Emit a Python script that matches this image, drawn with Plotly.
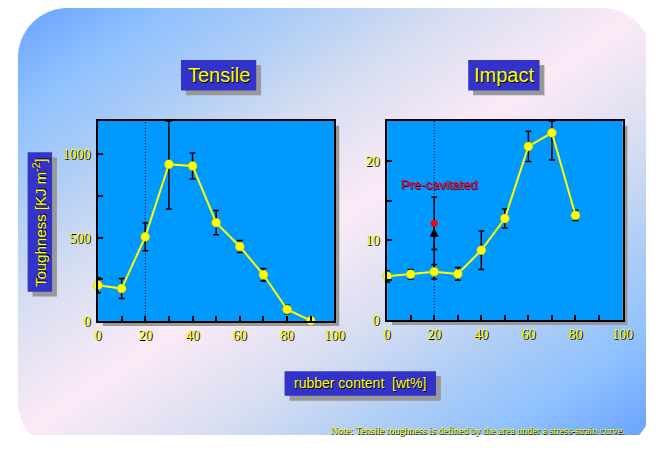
import base64
import struct
import zlib

import numpy as np
import plotly.graph_objects as go

# ---------------- data ----------------
tensile_x = [0, 10, 20, 30, 40, 50, 60, 70, 80, 90]
tensile_y = [215, 195, 505, 940, 930, 590, 447, 278, 70, 3]
tensile_err = [45, 60, 83, 268, 78, 73, 36, 37, 25, 8]

impact_x = [0, 10, 20, 30, 40, 50, 60, 70, 80]
impact_y = [5.5, 5.75, 6.07, 5.8, 8.77, 12.75, 21.8, 23.5, 13.15]
impact_err = [0.7, 0.6, 0.9, 0.8, 2.4, 1.2, 1.9, 3.4, 0.65]

precav_x = [20]
precav_y = [12.15]
precav_err = [3.3]
precav_arrow_from = 6.5
precav_arrow_to = 11.6

x_tickvals = [0, 10, 20, 30, 40, 50, 60, 70, 80, 90, 100]
x_ticktext = ["0", "", "20", "", "40", "", "60", "", "80", "", "100"]
tensile_tickvals = [0, 250, 500, 750, 1000]
tensile_ticktext = ["0", "", "500", "", "1000"]
impact_tickvals = [0, 5, 10, 15, 20, 25]
impact_ticktext = ["0", "", "10", "", "20", ""]

X_RANGE = [0, 100]
TENSILE_RANGE = [0, 1200]
IMPACT_RANGE = [0, 25]

# ---------------- geometry (page pixels) ----------------
PAGE_W, PAGE_H = 665, 451
OFF = 8                      # default page margin around the figure
W, H = PAGE_W - 2 * OFF, PAGE_H - 2 * OFF
TEN_BOX = (96, 123, 338, 327)   # left, top, right, bottom
IMP_BOX = (392, 123, 633, 326)
SHADOW = 5

YELLOW = "#FFFF00"
BOXBLUE = "#3333CC"
PLOTBLUE = "#0099FF"
GREY = "#999999"
TXT_SHADOW = "1px 1px 0px #000000"


def pxx(x):
    return (x - OFF) / W


def pxy(y):
    return 1 - (y - OFF) / H


# ---------------- background picture (gradient rounded panel) ----------------
def make_background():
    yy, xx = np.mgrid[0:H, 0:W].astype(float) + 0.5
    xx = xx + OFF
    yy = yy + OFF
    t = xx + 1.47 * yy
    d = np.abs(t - 670) / 650.0
    stops = [0.0, 0.3, 0.55, 0.75, 1.0, 1.3]
    cols = np.array([
        (252, 234, 247),
        (214, 221, 241),
        (170, 203, 247),
        (140, 192, 255),
        (98, 158, 255),
        (90, 150, 255),
    ], float)
    img = np.zeros((H, W, 3))
    for c in range(3):
        img[..., c] = np.interp(d, stops, cols[:, c])
    hatch = ((xx + yy) % 4.0) < 1.0
    img[hatch] = img[hatch] * 0.85 + 255 * 0.15
    L, T, R, B, r = 14, 8, 663, 460, 51
    cx = np.clip(xx, L + r, R - r)
    cy = np.clip(yy, T + r, B - r)
    dist = np.sqrt((xx - cx) ** 2 + (yy - cy) ** 2) - r
    a = np.clip(0.5 - dist, 0, 1)[..., None]
    img = img * a + 255 * (1 - a)
    img = np.clip(img, 0, 255).astype(np.uint8)
    raw = b"".join(b"\x00" + row.tobytes() for row in img)

    def chunk(tag, data):
        return (struct.pack(">I", len(data)) + tag + data +
                struct.pack(">I", zlib.crc32(tag + data) & 0xFFFFFFFF))

    png = (b"\x89PNG\r\n\x1a\n" +
           chunk(b"IHDR", struct.pack(">IIBBBBB", W, H, 8, 2, 0, 0, 0)) +
           chunk(b"IDAT", zlib.compress(raw, 9)) + chunk(b"IEND", b""))
    return "data:image/png;base64," + base64.b64encode(png).decode()


fig = go.Figure()


def clipped_plus(ys, errs, top):
    return [min(e, top - y) for y, e in zip(ys, errs)]


DOT = "1px,2px"

# ---- Tensile ----
fig.add_trace(go.Scatter(x=[precav_x[0], precav_x[0]], y=TENSILE_RANGE, mode="lines",
                         line=dict(color="black", width=1, dash=DOT),
                         xaxis="x", yaxis="y", hoverinfo="skip", showlegend=False))
fig.add_trace(go.Scatter(
    x=tensile_x, y=tensile_y, mode="lines+markers", cliponaxis=False,
    line=dict(color=YELLOW, width=2),
    marker=dict(color=YELLOW, size=9, line=dict(width=0.5, color="#B8B800")),
    error_y=dict(type="data", symmetric=False,
                 array=clipped_plus(tensile_y, tensile_err, TENSILE_RANGE[1]),
                 arrayminus=tensile_err, color="black", thickness=1.5, width=3),
    xaxis="x", yaxis="y", showlegend=False))

# ---- Impact ----
fig.add_trace(go.Scatter(x=[precav_x[0], precav_x[0]], y=IMPACT_RANGE, mode="lines",
                         line=dict(color="black", width=1, dash=DOT),
                         xaxis="x2", yaxis="y2", hoverinfo="skip", showlegend=False))
fig.add_trace(go.Scatter(
    x=precav_x, y=precav_y, mode="markers", cliponaxis=False,
    marker=dict(color="#FF0000", size=7),
    error_y=dict(type="data", array=precav_err, color="black", thickness=1.5, width=3),
    xaxis="x2", yaxis="y2", showlegend=False))
fig.add_trace(go.Scatter(
    x=impact_x, y=impact_y, mode="lines+markers", cliponaxis=False,
    line=dict(color=YELLOW, width=2),
    marker=dict(color=YELLOW, size=9, line=dict(width=0.5, color="#B8B800")),
    error_y=dict(type="data", symmetric=False,
                 array=clipped_plus(impact_y, impact_err, IMPACT_RANGE[1]),
                 arrayminus=impact_err, color="black", thickness=1.5, width=3),
    xaxis="x2", yaxis="y2", showlegend=False))

tickfont = dict(family="Liberation Serif", size=14, color=YELLOW, shadow=TXT_SHADOW)
axis_common = dict(showline=True, mirror=True, linecolor="black", linewidth=1.5,
                   ticks="inside", ticklen=5, tickwidth=1.5, tickcolor="black",
                   showgrid=False, zeroline=False, tickfont=tickfont, fixedrange=True)


def dom_x(box):
    return [pxx(box[0]), pxx(box[2])]


def dom_y(box):
    return [pxy(box[3]), pxy(box[1])]


shapes = []
for box in (TEN_BOX, IMP_BOX):
    l, t, r, b = box
    shapes.append(dict(type="rect", xref="paper", yref="paper", layer="below",
                       x0=pxx(l + SHADOW), x1=pxx(r + SHADOW), y0=pxy(b + SHADOW), y1=pxy(t + SHADOW),
                       fillcolor=GREY, line=dict(width=0)))
    shapes.append(dict(type="rect", xref="paper", yref="paper", layer="below",
                       x0=pxx(l), x1=pxx(r), y0=pxy(b), y1=pxy(t),
                       fillcolor=PLOTBLUE, line=dict(width=0)))

annotations = []


def label_box(l, t, r, b, text, size, rotate=0):
    shapes.append(dict(type="rect", xref="paper", yref="paper", layer="below",
                       x0=pxx(l + SHADOW), x1=pxx(r + SHADOW), y0=pxy(b + SHADOW), y1=pxy(t + SHADOW),
                       fillcolor=GREY, line=dict(width=0)))
    shapes.append(dict(type="rect", xref="paper", yref="paper", layer="below",
                       x0=pxx(l), x1=pxx(r), y0=pxy(b), y1=pxy(t),
                       fillcolor=BOXBLUE, line=dict(width=0)))
    annotations.append(dict(xref="paper", yref="paper", x=pxx((l + r) / 2), y=pxy((t + b) / 2),
                            text=text, showarrow=False, textangle=rotate,
                            xanchor="center", yanchor="middle",
                            font=dict(family="Liberation Sans", size=size, color=YELLOW,
                                      shadow=TXT_SHADOW)))


label_box(181, 61, 258, 92, "Tensile", 20)
label_box(475, 61, 548, 92, "Impact", 20)
label_box(24, 155, 49, 297, "Toughness [KJ m<sup>-2</sup>]", 15, rotate=-90)
label_box(287, 378, 442, 403, "rubber content \u00a0[wt%]", 14)

annotations.append(dict(xref="paper", yref="paper", x=pxx(446), y=pxy(188),
                        text="Pre-cavitated", showarrow=False,
                        xanchor="center", yanchor="middle",
                        font=dict(family="Liberation Sans", size=13, color="#DC0A3C",
                                  shadow="1px 1px 0px #4A0010")))
annotations.append(dict(xref="x2", yref="y2", axref="x2", ayref="y2",
                        x=precav_x[0], y=precav_arrow_to, ax=precav_x[0], ay=precav_arrow_from,
                        text="", showarrow=True, arrowhead=2, arrowsize=1.2,
                        arrowwidth=1.5, arrowcolor="black"))
annotations.append(dict(xref="paper", yref="paper", x=pxx(637), y=pxy(438),
                        text="Note: Tensile toughness is defined by the area under a stress-strain curve.",
                        showarrow=False, xanchor="right", yanchor="middle",
                        font=dict(family="Liberation Serif", size=10, color=YELLOW,
                                  shadow="0.6px 0.6px 0px #000000")))

fig.update_layout(
    width=W, height=H,
    margin=dict(l=0, r=0, t=0, b=0),
    paper_bgcolor="white", plot_bgcolor="rgba(0,0,0,0)",
    showlegend=False,
    xaxis=dict(domain=dom_x(TEN_BOX), range=X_RANGE, tickvals=x_tickvals, ticktext=x_ticktext,
               anchor="y", **axis_common),
    yaxis=dict(domain=dom_y(TEN_BOX), range=TENSILE_RANGE, tickvals=tensile_tickvals,
               ticktext=tensile_ticktext, anchor="x", ticklabelstandoff=3, **axis_common),
    xaxis2=dict(domain=dom_x(IMP_BOX), range=X_RANGE, tickvals=x_tickvals, ticktext=x_ticktext,
                anchor="y2", **axis_common),
    yaxis2=dict(domain=dom_y(IMP_BOX), range=IMPACT_RANGE, tickvals=impact_tickvals,
                ticktext=impact_ticktext, anchor="x2", ticklabelstandoff=3, **axis_common),
    shapes=shapes,
    annotations=annotations,
    images=[dict(source=make_background(), xref="paper", yref="paper", x=0, y=1,
                 sizex=1, sizey=1, xanchor="left", yanchor="top", sizing="stretch",
                 layer="below")],
)

fig.write_html("out.html")
